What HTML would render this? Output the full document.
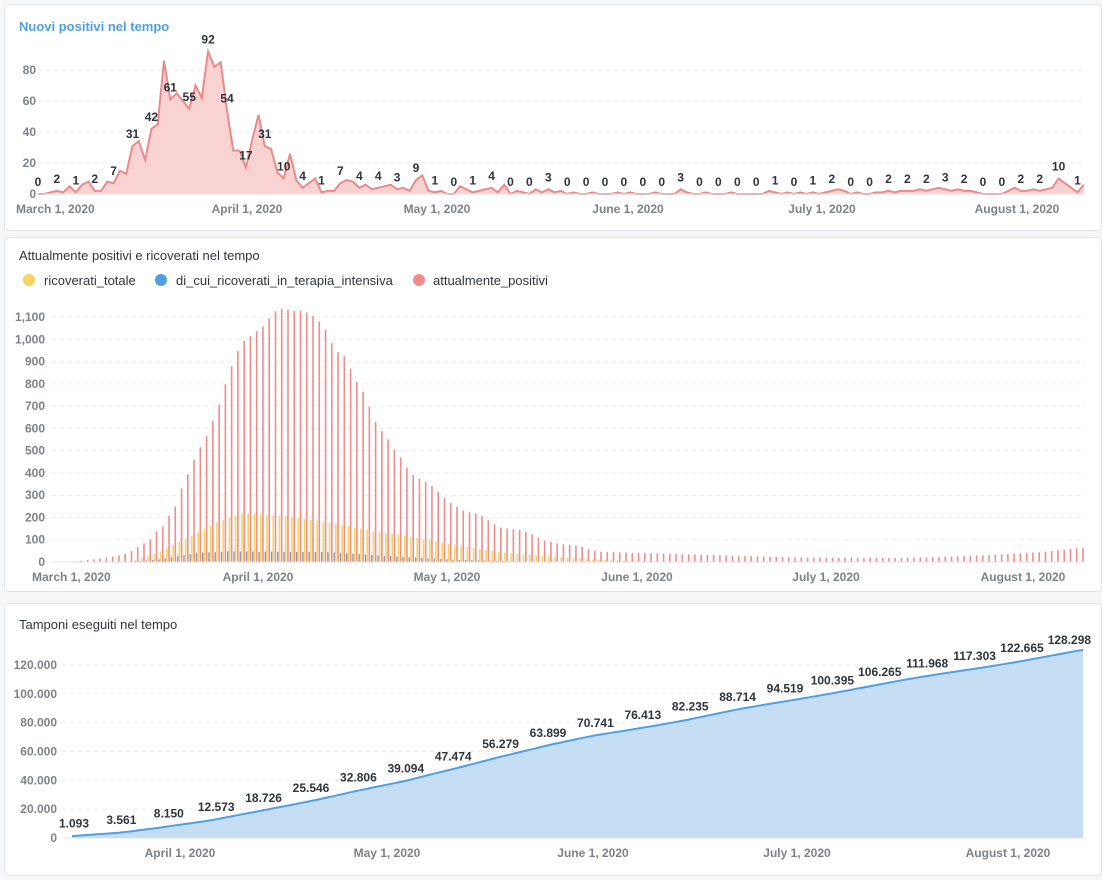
<!DOCTYPE html>
<html><head><meta charset="utf-8"><style>
body{margin:0;width:1102px;height:880px;background:#f4f6f8;font-family:"Liberation Sans",sans-serif;overflow:hidden}
.p{position:absolute;left:4px;width:1096px;background:#fff;border:1px solid #e0e4e8;border-radius:5px}
svg{position:absolute;left:0;top:0}
</style></head><body>
<div class="p" style="top:4px;height:225px"></div>
<div class="p" style="top:237px;height:353px"></div>
<div class="p" style="top:603px;height:271px"></div>
<svg id="s" width="1102" height="880" font-family="Liberation Sans, sans-serif"></svg>
<script>
var S=document.getElementById('s'),h='';
function t(x,y,s,o){o=o||{};h+='<text x="'+x+'" y="'+y+'" font-size="'+(o.fs||12)+'" font-weight="'+(o.w||'bold')+'" fill="'+(o.c||'#7c8287')+'" text-anchor="'+(o.a||'middle')+'">'+s+'</text>';}
function L(x1,y1,x2,y2,c,d,w){h+='<line x1="'+x1+'" y1="'+y1+'" x2="'+x2+'" y2="'+y2+'" stroke="'+c+'" stroke-width="'+(w||1)+'"'+(d?' stroke-dasharray="'+d+'"':'')+'/>';}
// chart 1
t(19,31,'Nuovi positivi nel tempo',{c:'#509ee3',fs:13,a:'start'});
var d1=[0,0,1,2,1,5,1,6,8,2,2,8,7,15,13,31,34,22,42,45,86,61,65,60,55,70,62,92,82,85,54,28,28,17,35,51,31,29,14,10,26,9,4,7,10,1,2,2,7,9,8,4,6,3,4,5,6,3,4,2,9,12,2,1,2,0,0,5,3,1,2,3,4,1,6,0,2,1,0,3,1,3,1,2,0,1,0,0,1,0,0,0,1,0,1,0,0,0,1,0,0,0,3,1,0,0,1,0,0,0,1,0,0,0,0,0,2,1,0,1,0,1,0,1,0,1,2,3,2,0,1,0,0,1,1,2,1,2,2,2,3,2,3,4,3,2,3,2,2,1,0,0,0,0,2,4,2,2,3,2,3,4,10,7,4,1,6];
for(var v=0;v<=80;v+=20){var y=194-v*1.55;if(v)L(38,y,1085,y,'#e8eaec','4 4');t(36,y+4,v,{a:'end'});}
var p='',X=function(i){return 38+i*6.3},Y=function(v){return 194-v*1.55};
for(var i=0;i<d1.length;i++)p+=(i?'L':'M')+X(i).toFixed(1)+','+Y(d1[i]).toFixed(1);
h+='<path d="'+p+'L'+X(d1.length-1)+',194L38,194Z" fill="#f9d2d2"/><path d="'+p+'" fill="none" stroke="#ea8a8a" stroke-width="2"/>';
L(38,194,1085,194,'#dfe3e6');
for(var i=0;i<d1.length;i+=3){var vv=d1[i];var yy=Y(vv)-8;t(X(i),Math.min(yy,186),vv,{c:'#2e353b'});}
t(16,213,'March 1, 2020',{a:'start'});t(247,213,'April 1, 2020');t(437,213,'May 1, 2020');t(628,213,'June 1, 2020');t(822,213,'July 1, 2020');t(1017,213,'August 1, 2020');
// chart 2
t(19,260,'Attualmente positivi e ricoverati nel tempo',{c:'#2e353b',fs:13,w:'normal',a:'start'});
h+='<circle cx="29" cy="280" r="6" fill="#f9d45c"/><circle cx="161" cy="280" r="6" fill="#509ee3"/><circle cx="419" cy="280" r="6" fill="#ef8c8c"/>';
t(44,285,'ricoverati_totale',{c:'#2e353b',fs:13,w:'normal',a:'start'});t(176,285,'di_cui_ricoverati_in_terapia_intensiva',{c:'#2e353b',fs:13,w:'normal',a:'start'});t(433,285,'attualmente_positivi',{c:'#2e353b',fs:13,w:'normal',a:'start'});
for(var v=0;v<=1100;v+=100){var y=562-v*0.2227;if(v)L(52,y,1085,y,'#e8eaec','4 4');t(45,y+4,v>=1000?(v/1000|0)+','+String(v%1000).padStart(3,'0'):v,{a:'end'});}
function interp(pts,x){if(x<=pts[0][0])return pts[0][1];for(var i=1;i<pts.length;i++)if(x<=pts[i][0]){var a=pts[i-1],b=pts[i];return a[1]+(b[1]-a[1])*(x-a[0])/(b[0]-a[0]);}return pts[pts.length-1][1];}
var R=[[60,0],[80,5],[100,15],[120,30],[130,45],[140,73],[150,100],[157,140],[163,160],[168,200],[175,245],[181,325],[187,385],[193,450],[199,505],[206,560],[212,625],[218,690],[224,780],[230,860],[236,930],[242,985],[248,1005],[254,1030],[260,1045],[266,1070],[273,1120],[279,1135],[285,1140],[291,1125],[298,1130],[304,1125],[310,1115],[317,1090],[323,1065],[329,1015],[335,945],[342,940],[348,900],[354,825],[360,790],[367,730],[373,650],[380,595],[386,570],[392,515],[398,490],[405,436],[411,400],[417,377],[423,368],[429,350],[436,328],[442,296],[449,269],[455,256],[461,233],[467,229],[473,220],[480,215],[486,193],[492,180],[498,157],[510,148],[523,144],[529,126],[535,121],[541,99],[547,94],[553,90],[559,81],[572,76],[584,67],[590,54],[602,45],[677,36],[750,26],[800,20],[900,18],[950,24],[1000,34],[1040,44],[1083,65]];
var Yw=[[130,0],[160,40],[190,110],[215,170],[245,220],[290,205],[340,170],[380,135],[400,125],[440,90],[500,45],[540,30],[600,10],[650,3],[700,0]];
var Bw=[[130,0],[160,10],[200,40],[230,48],[330,45],[400,25],[450,12],[500,5],[560,0]];
for(var x=1083;x>54;x-=6.26){var r=interp(R,x),yv=interp(Yw,x),b=interp(Bw,x);
h+='<rect x="'+(x-0.8)+'" y="'+(562-r*0.2227)+'" width="1.6" height="'+(r*0.2227)+'" fill="#ef8c8c"/>';
if(yv>0.5)h+='<rect x="'+(x-3)+'" y="'+(562-yv*0.2227)+'" width="1.6" height="'+(yv*0.2227)+'" fill="#f9d45c"/>';
if(b>0.5)h+='<rect x="'+(x-4.6)+'" y="'+(562-b*0.2227)+'" width="1.4" height="'+(b*0.2227)+'" fill="#8797ad"/>';}
L(52,562,1085,562,'#dfe3e6');
t(32,581,'March 1, 2020',{a:'start'});t(258,581,'April 1, 2020');t(447,581,'May 1, 2020');t(637,581,'June 1, 2020');t(826,581,'July 1, 2020');t(1023,581,'August 1, 2020');
// chart 3
t(19,629,'Tamponi eseguiti nel tempo',{c:'#2e353b',fs:13,w:'normal',a:'start'});
for(var v=0;v<=120000;v+=20000){var y=838-v*0.0014417;if(v)L(62,y,1085,y,'#e8eaec','4 4');t(57,y+4,v?(v/1000)+'.000':0,{a:'end'});}
var tv=[1093,3561,8150,12573,18726,25546,32806,39094,47474,56279,63899,70741,76413,82235,88714,94519,100395,106265,111968,117303,122665,128298];
var lab=['1.093','3.561','8.150','12.573','18.726','25.546','32.806','39.094','47.474','56.279','63.899','70.741','76.413','82.235','88.714','94.519','100.395','106.265','111.968','117.303','122.665','128.298'];
var SP=47.4;
var pts=[];for(var i=0;i<tv.length;i++)pts.push([72+i*SP,tv[i]]);pts.push([1083,130400]);
var q='';for(var x=72;x<=1083;x+=6.7){var v=interp(pts,x)+Math.sin(x*0.9)*250;q+=(q?'L':'M')+x.toFixed(1)+','+(838-v*0.0014417).toFixed(1);}
q+='L1083,'+(838-130400*0.0014417).toFixed(1);
h+='<path d="'+q+'L1083,838L72,838Z" fill="#c6def4"/><path d="'+q+'" fill="none" stroke="#509ee3" stroke-width="2"/>';
L(62,838,1085,838,'#dfe3e6');
for(var i=0;i<tv.length;i++)t(74+i*SP,838-tv[i]*0.0014417-9,lab[i],{c:'#2e353b'});
t(180,857,'April 1, 2020');t(387,857,'May 1, 2020');t(593,857,'June 1, 2020');t(797,857,'July 1, 2020');t(1008,857,'August 1, 2020');
S.innerHTML=h;
</script>
</body></html>
